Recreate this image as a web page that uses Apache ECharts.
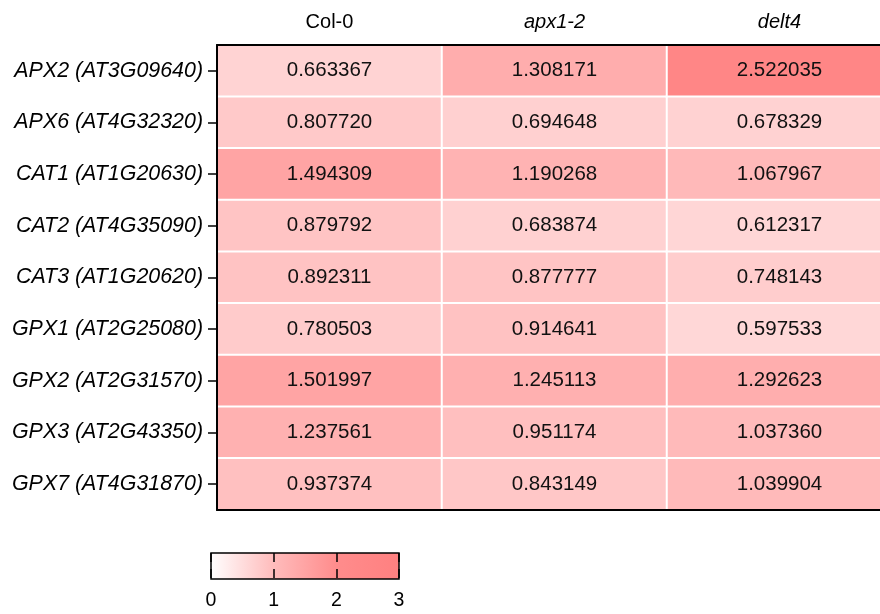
<!DOCTYPE html>
<html>
<head>
<meta charset="utf-8">
<script src="https://cdn.jsdelivr.net/npm/echarts@6/dist/echarts.min.js"></script>
<style>html,body{margin:0;padding:0;background:#fff;overflow:hidden}#c{width:900px;height:614px}</style>
</head>
<body>
<div id="c"></div>
<script>
var columns = ['Col-0', 'apx1-2', 'delt4'];
var columnItalic = [false, true, true];
var genes = ['APX2 (AT3G09640)', 'APX6 (AT4G32320)', 'CAT1 (AT1G20630)', 'CAT2 (AT4G35090)',
  'CAT3 (AT1G20620)', 'GPX1 (AT2G25080)', 'GPX2 (AT2G31570)', 'GPX3 (AT2G43350)', 'GPX7 (AT4G31870)'];
var col0 = [0.663367, 0.807720, 1.494309, 0.879792, 0.892311, 0.780503, 1.501997, 1.237561, 0.937374];
var apx12 = [1.308171, 0.694648, 1.190268, 0.683874, 0.877777, 0.914641, 1.245113, 0.951174, 0.843149];
var delt4 = [2.522035, 0.678329, 1.067967, 0.612317, 0.748143, 0.597533, 1.292623, 1.037360, 1.039904];
var scaleTicks = [0, 1, 2, 3];
var scaleColors = ['#FFFFFF', '#FFBCBC', '#FF8C8C', '#FF8080'];

var cols = [col0, apx12, delt4];
var data = [];
cols.forEach(function (arr, ci) {
  arr.forEach(function (v, ri) { data.push([ci, ri, v]); });
});

var FONT = "'Liberation Sans', Arial, sans-serif";
var chart = echarts.init(document.getElementById('c'), null, {renderer: 'canvas'});
chart.setOption({
  backgroundColor: '#fff',
  animation: false,
  textStyle: {fontFamily: FONT},
  grid: [
    {left: 217, top: 45, width: 675, height: 465},
    {left: 211, top: 553, width: 188, height: 26}
  ],
  xAxis: [
    {
      type: 'category', data: columns, position: 'top', gridIndex: 0, z: 10,
      axisLine: {show: true, lineStyle: {color: '#000', width: 2}},
      axisTick: {show: false},
      axisLabel: {
        margin: 13, color: '#000', fontSize: 20, fontFamily: FONT,
        formatter: function (v, i) { return columnItalic[i] ? '{it|' + v + '}' : v; },
        rich: {it: {fontStyle: 'italic', fontSize: 20, color: '#000', fontFamily: FONT}}
      },
      splitLine: {show: false}
    },
    {
      type: 'category', data: columns, position: 'bottom', gridIndex: 0, z: 10,
      axisLine: {show: true, lineStyle: {color: '#000', width: 2}},
      axisTick: {show: false}, axisLabel: {show: false}, splitLine: {show: false}
    },
    {
      type: 'value', gridIndex: 1, min: 0, max: 3, interval: 1, z: 10,
      axisLine: {show: false}, axisTick: {show: false},
      axisLabel: {margin: 12, color: '#000', fontSize: 19.5, fontFamily: FONT},
      splitLine: {show: true, lineStyle: {color: '#000', width: 1.5, type: [9, 7]}}
    }
  ],
  yAxis: [
    {
      type: 'category', data: genes, inverse: true, gridIndex: 0, z: 10,
      axisLine: {show: true, lineStyle: {color: '#000', width: 2}},
      axisTick: {show: true, length: 9, alignWithLabel: true, lineStyle: {color: '#000', width: 1.5}},
      axisLabel: {margin: 14, color: '#000', fontSize: 21.4, fontStyle: 'italic', fontFamily: FONT},
      splitLine: {show: false}
    },
    {
      type: 'value', gridIndex: 1, min: 0, max: 1, show: false
    }
  ],
  visualMap: {
    show: false, type: 'continuous', min: 0, max: 3, seriesIndex: 0,
    inRange: {color: scaleColors}
  },
  series: [
    {
      type: 'heatmap', xAxisIndex: 0, yAxisIndex: 0, data: data,
      itemStyle: {borderColor: '#fff', borderWidth: 2},
      label: {
        show: true, color: '#111', fontSize: 20.5, fontFamily: FONT,
        formatter: function (p) { return p.value[2].toFixed(6); }
      },
      emphasis: {disabled: true}
    },
    {
      type: 'custom', xAxisIndex: 2, yAxisIndex: 1, z: 2,
      data: [[scaleTicks[0], scaleTicks[scaleTicks.length - 1]]],
      renderItem: function (params, api) {
        var p0 = api.coord([api.value(0), 0]);
        var p1 = api.coord([api.value(1), 1]);
        var stops = scaleColors.map(function (c, i) {
          return {offset: i / (scaleColors.length - 1), color: c};
        });
        return {
          type: 'rect',
          shape: {x: p0[0], y: p1[1], width: p1[0] - p0[0], height: p0[1] - p1[1]},
          style: {
            fill: new echarts.graphic.LinearGradient(0, 0, 1, 0, stops),
            stroke: '#000', lineWidth: 1.5
          }
        };
      }
    }
  ]
});
</script>
</body>
</html>
